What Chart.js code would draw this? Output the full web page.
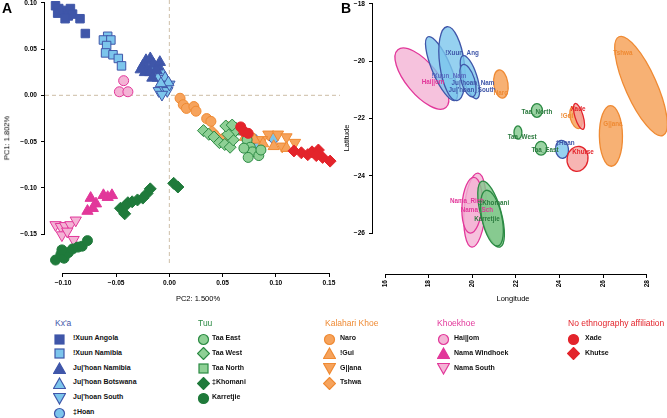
<!DOCTYPE html>
<html><head><meta charset="utf-8">
<script src="https://cdn.jsdelivr.net/npm/chart.js@4/dist/chart.umd.min.js"></script>
<style>
body{margin:0;background:#fff;width:667px;height:418px;overflow:hidden;position:relative;font-family:"Liberation Sans",Arial,Helvetica,sans-serif;}
canvas{position:absolute;top:-7px}
#cA{left:0}
#cB{left:330px}
.t{position:absolute;white-space:nowrap;color:#000;line-height:1}
.lbl{font-size:7.5px}
.letter{font-size:14px;font-weight:bold}
.hdr{position:absolute;white-space:nowrap;font-size:8.5px;line-height:1}
.itm{position:absolute;white-space:nowrap;font-size:7px;font-weight:bold;line-height:1;color:#111}
.sym{position:absolute;width:13px;height:13px}
</style>
</head><body>
<canvas id="cA" width="340" height="317"></canvas>
<canvas id="cB" width="337" height="317"></canvas>
<div class="t letter" style="left:2px;top:1px">A</div>
<div class="t letter" style="left:341px;top:1px">B</div>
<div class="t lbl" style="left:198px;top:299px;transform:translate(-50%,-50%)">PC2: 1.500%</div>
<div class="t lbl" style="left:7px;top:138px;transform:translate(-50%,-50%) rotate(-90deg)">PC1: 1.802%</div>
<div class="t lbl" style="left:513px;top:299px;transform:translate(-50%,-50%)">Longitude</div>
<div class="t lbl" style="left:347px;top:138px;transform:translate(-50%,-50%) rotate(-90deg)">Latitude</div>
<div id="legend"></div>
<script>
// ===== Panel A: PCA values [PC2, PC1] =====
const xuunAngola = [[-0.107,0.097],[-0.104,0.094],[-0.105,0.089],[-0.100,0.092],[-0.096,0.089],[-0.093,0.094],[-0.095,0.086],[-0.091,0.088],[-0.098,0.083],[-0.084,0.083],[-0.079,0.067]];
const xuunNamibia = [[-0.058,0.064],[-0.062,0.060],[-0.055,0.060],[-0.059,0.054],[-0.060,0.046],[-0.053,0.044],[-0.048,0.040],[-0.045,0.032]];
const juhoanNamibia = [[-0.025,0.032],[-0.022,0.038],[-0.018,0.040],[-0.021,0.029],[-0.015,0.034],[-0.011,0.031],[-0.023,0.025],[-0.018,0.025],[-0.012,0.027],[-0.009,0.036],[-0.016,0.019],[-0.027,0.028]];
const juhoanBotswana = [[-0.015,0.030],[-0.007,0.025],[-0.011,0.019],[-0.004,0.019],[-0.001,0.014],[-0.008,0.013]];
const juhoanSouth = [[-0.010,0.005],[-0.006,0.009],[-0.002,0.005],[0.000,0.012],[-0.008,0.016],[-0.007,0.001]];
const hoan = [[0.079,-0.047],[0.084,-0.055],[0.098,-0.046]];
const taaEast = [[0.073,-0.048],[0.076,-0.056],[0.078,-0.061],[0.084,-0.065],[0.074,-0.067],[0.086,-0.059],[0.070,-0.057]];
const taaWest = [[0.032,-0.038],[0.037,-0.042],[0.042,-0.045],[0.047,-0.051],[0.052,-0.053],[0.057,-0.056],[0.060,-0.048],[0.062,-0.038],[0.055,-0.042],[0.053,-0.033],[0.059,-0.032]];
const taaNorth = [[0.059,-0.034],[0.064,-0.038]];
const khomani = [[-0.046,-0.122],[-0.042,-0.128],[-0.039,-0.116],[-0.035,-0.115],[-0.030,-0.113],[-0.025,-0.111],[-0.021,-0.106],[-0.018,-0.101],[0.004,-0.095],[0.008,-0.099],[-0.041,-0.119]];
const karretjie = [[-0.107,-0.178],[-0.102,-0.172],[-0.099,-0.176],[-0.095,-0.170],[-0.091,-0.166],[-0.086,-0.164],[-0.082,-0.163],[-0.077,-0.157],[-0.101,-0.167]];
const naro = [[0.010,-0.003],[0.013,-0.010],[0.016,-0.014],[0.023,-0.012],[0.025,-0.017],[0.035,-0.025],[0.039,-0.028],[0.055,-0.034]];
const gui = [[0.071,-0.045],[0.088,-0.052],[0.098,-0.055],[0.110,-0.057],[0.080,-0.048]];
const gllana = [[0.074,-0.044],[0.093,-0.042],[0.102,-0.042],[0.110,-0.045],[0.118,-0.051],[0.106,-0.055],[0.087,-0.048]];
const tshwa = [[0.040,-0.039],[0.044,-0.044],[0.050,-0.047]];
const haiom = [[-0.043,0.016],[-0.047,0.004],[-0.039,0.004]];
const namaWindhoek = [[-0.074,-0.111],[-0.072,-0.122],[-0.077,-0.125],[-0.062,-0.108],[-0.058,-0.110],[-0.054,-0.108],[-0.069,-0.117]];
const namaSouth = [[-0.107,-0.140],[-0.102,-0.142],[-0.098,-0.141],[-0.093,-0.140],[-0.088,-0.135],[-0.101,-0.151],[-0.090,-0.156],[-0.096,-0.147]];
const xade = [[0.067,-0.034],[0.070,-0.039],[0.074,-0.041]];
const khutse = [[0.117,-0.060],[0.124,-0.062],[0.130,-0.064],[0.134,-0.061],[0.140,-0.059],[0.144,-0.067],[0.151,-0.071],[0.138,-0.065]];

const pcaTicksX = [-0.10,-0.05,0.00,0.05,0.10,0.15];
const pcaTicksY = [-0.15,-0.10,-0.05,0.00,0.05,0.10];

// ===== Panel B: ellipses (centre lon/lat, major semi-axis end offset, minor/major ratio) =====
const ellNames = ["Hai||om","!Xuun_Nam","!Xuun_Ang","Ju|'hoan_South","Ju|'hoan_Nam","Naro","Tshwa","G||ana","!Gui","Xade","Taa_North","Taa_West","Taa_East","‡Hoan","Khutse","Nama_Rieh","Nama_Sch","‡Khomani","Karretjie"];
const ellGroup = ["khoe","kxa","kxa","kxa","kxa","kal","kal","kal","kal","none","tuu","tuu","tuu","kxa","none","khoe","khoe","tuu","tuu"];
const ellLon = [17.69,18.59,19.07,19.89,19.80,21.31,27.73,26.35,24.75,24.89,22.96,22.09,23.15,24.11,24.82,20.12,19.99,20.86,20.90];
const ellLat = [-20.61,-20.26,-20.09,-20.56,-20.68,-20.80,-20.87,-22.61,-21.97,-21.93,-21.72,-22.49,-23.04,-23.08,-23.41,-25.20,-25.03,-25.34,-25.48];
const ellMajLon = [1.10,0.62,0.23,0.32,0.23,0.09,1.01,0.02,0.14,0.18,0.0,0.0,0.0,0.05,-0.11,-0.14,-0.09,0.41,0.27];
const ellMajLat = [-1.01,-1.11,-1.29,-0.75,-0.56,-0.49,-1.72,-1.06,-0.38,-0.45,-0.24,-0.23,-0.24,-0.31,-0.43,-1.29,-0.97,-1.15,-0.97];
const ellRatio = [0.42,0.27,0.33,0.31,0.40,0.5,0.29,0.38,0.5,0.3,0.8,0.6,0.85,0.72,0.83,0.29,0.36,0.3,0.35];

const labNames = ["!Xuun_Ang","!Xuun_Nam","Hai||om","Ju|'hoan_Nam","Ju|'hoan_South","Naro","Taa_North","Taa_West","Taa_East","‡Hoan","Xade","!Gui","G||ana","Tshwa","Khutse","Nama_Rieh","Nama_Sch","‡Khomani","Karretjie"];
const labGroup = ["kxa","kxa2","khoe","kxa","kxa","kal","tuu","tuu","tuu","kxa","none","kal","kal","kal","none","khoe","khoe","tuu","tuu"];
const labLon = [19.53,18.93,18.20,20.03,19.99,21.31,22.96,22.28,23.33,24.25,24.84,24.34,26.44,26.90,25.07,19.76,20.21,20.99,20.67];
const labLat = [-19.74,-20.54,-20.75,-20.78,-21.03,-21.13,-21.79,-22.66,-23.11,-22.87,-21.69,-21.93,-22.21,-19.74,-23.18,-24.89,-25.20,-24.96,-25.51];

const geoTicksX = [16,18,20,22,24,26,28];
const geoTicksY = [-26,-24,-22,-20,-18];

// ===== Legend =====
const legendGroups = ["Kx'a","Tuu","Kalahari Khoe","Khoekhoe","No ethnography affiliation"];
const legendMembers = [
  ["!Xuun Angola","!Xuun Namibia","Ju|'hoan Namibia","Ju|'hoan Botswana","Ju|'hoan South","‡Hoan"],
  ["Taa East","Taa West","Taa North","‡Khomani","Karretjie"],
  ["Naro","!Gui","G||ana","Tshwa"],
  ["Hai||om","Nama Windhoek","Nama South"],
  ["Xade","Khutse"]];

// ===== styles =====
const C = {
  dBlue:'#3f56a9', lBlue:'#7cc5ec', lGreen:'#8ed095', green:'#2b8a43', dGreen:'#1f7a3b',
  orange:'#f6a35c', orangeS:'#ef8a33', pink:'#f4b3d5', mag:'#e2379a', red:'#e3242b'
};
const popStyle = {
  "!Xuun Angola":{shape:'rect',fill:C.dBlue,stroke:C.dBlue,data:xuunAngola},
  "!Xuun Namibia":{shape:'rect',fill:C.lBlue,stroke:C.dBlue,data:xuunNamibia},
  "Ju|'hoan Namibia":{shape:'tri',fill:C.dBlue,stroke:C.dBlue,data:juhoanNamibia},
  "Ju|'hoan Botswana":{shape:'tri',fill:C.lBlue,stroke:C.dBlue,data:juhoanBotswana},
  "Ju|'hoan South":{shape:'triD',fill:C.lBlue,stroke:C.dBlue,data:juhoanSouth},
  "‡Hoan":{shape:'circle',fill:C.lBlue,stroke:C.dBlue,data:hoan},
  "Taa East":{shape:'circle',fill:C.lGreen,stroke:C.green,data:taaEast},
  "Taa West":{shape:'diamond',fill:C.lGreen,stroke:C.green,data:taaWest},
  "Taa North":{shape:'rect',fill:C.lGreen,stroke:C.green,data:taaNorth},
  "‡Khomani":{shape:'diamond',fill:C.dGreen,stroke:C.dGreen,data:khomani},
  "Karretjie":{shape:'circle',fill:C.dGreen,stroke:C.dGreen,data:karretjie},
  "Naro":{shape:'circle',fill:C.orange,stroke:C.orangeS,data:naro},
  "!Gui":{shape:'tri',fill:C.orange,stroke:C.orangeS,data:gui},
  "G||ana":{shape:'triD',fill:C.orange,stroke:C.orangeS,data:gllana},
  "Tshwa":{shape:'diamond',fill:C.orange,stroke:C.orangeS,data:tshwa},
  "Hai||om":{shape:'circle',fill:C.pink,stroke:C.mag,data:haiom},
  "Nama Windhoek":{shape:'tri',fill:C.mag,stroke:C.mag,data:namaWindhoek},
  "Nama South":{shape:'triD',fill:C.pink,stroke:C.mag,data:namaSouth},
  "Xade":{shape:'circle',fill:C.red,stroke:C.red,data:xade},
  "Khutse":{shape:'diamond',fill:C.red,stroke:C.red,data:khutse}
};
const drawOrder = ["Karretjie","‡Khomani","Nama South","Nama Windhoek","Hai||om","!Xuun Angola","!Xuun Namibia","Ju|'hoan Namibia","Ju|'hoan Botswana","Ju|'hoan South","Xade","Khutse","Taa West","Taa North","Taa East","Naro","Tshwa","!Gui","G||ana","‡Hoan"];
const shapeCfg = {
  rect:{pointStyle:'rect',radius:6,rotation:0},
  tri:{pointStyle:'triangle',radius:6.5,rotation:0},
  triD:{pointStyle:'triangle',radius:6.5,rotation:180},
  circle:{pointStyle:'circle',radius:5,rotation:0},
  diamond:{pointStyle:'rectRot',radius:6,rotation:0}
};
const ellFill = {kxa:'rgba(124,197,236,0.8)',tuu:'rgba(130,200,140,0.8)',kal:'rgba(246,163,92,0.85)',khoe:'rgba(244,179,213,0.8)',none:'rgba(245,163,160,0.8)'};
const ellStroke = {kxa:C.dBlue,tuu:C.green,kal:C.orangeS,khoe:C.mag,none:C.red};
const labColor = {kxa:C.dBlue,kxa2:'#5a6cc0',tuu:'#2b7a3e',kal:C.orangeS,khoe:C.mag,none:C.red};

const FONT = "'Liberation Sans', Arial, Helvetica, sans-serif";
const fmtA = v => (v < 0 ? '\u2212' : '') + Math.abs(v).toFixed(2);
const fmtB = v => (v < 0 ? '\u2212' : '') + Math.abs(v);

const rAxes = {
  id:'rAxes',
  afterDraw(chart){
    const ctx = chart.ctx, ca = chart.chartArea, xs = chart.scales.x, ys = chart.scales.y;
    const xt = xs.ticks, yt = ys.ticks;
    ctx.save(); ctx.strokeStyle = '#000'; ctx.lineWidth = 1; ctx.beginPath();
    ctx.moveTo(xs.getPixelForValue(xt[0].value), ca.bottom + 0.5);
    ctx.lineTo(xs.getPixelForValue(xt[xt.length-1].value), ca.bottom + 0.5);
    ctx.moveTo(ca.left - 0.5, ys.getPixelForValue(yt[0].value));
    ctx.lineTo(ca.left - 0.5, ys.getPixelForValue(yt[yt.length-1].value));
    ctx.stroke(); ctx.restore();
  }
};
const zeroLines = {
  id:'zeroLines',
  beforeDatasetsDraw(chart){
    const ctx = chart.ctx, ca = chart.chartArea;
    const x0 = chart.scales.x.getPixelForValue(0), y0 = chart.scales.y.getPixelForValue(0);
    ctx.save(); ctx.strokeStyle = '#d6c9b6'; ctx.lineWidth = 1.2; ctx.setLineDash([4,3]);
    ctx.beginPath(); ctx.moveTo(x0, 0); ctx.lineTo(x0, ca.bottom - 8);
    ctx.moveTo(ca.left, y0); ctx.lineTo(ca.right, y0); ctx.stroke(); ctx.restore();
  }
};
const ellipses = {
  id:'ellipses',
  beforeDatasetsDraw(chart){
    const ctx = chart.ctx, xs = chart.scales.x, ys = chart.scales.y;
    ctx.save(); ctx.lineWidth = 1.3;
    ellNames.forEach((n,i) => {
      const cx = xs.getPixelForValue(ellLon[i]), cy = ys.getPixelForValue(ellLat[i]);
      const ex = xs.getPixelForValue(ellLon[i] + ellMajLon[i]) - cx;
      const ey = ys.getPixelForValue(ellLat[i] + ellMajLat[i]) - cy;
      const a = Math.hypot(ex, ey), ang = Math.atan2(ey, ex);
      ctx.beginPath(); ctx.ellipse(cx, cy, a, a * ellRatio[i], ang, 0, Math.PI * 2);
      ctx.fillStyle = ellFill[ellGroup[i]]; ctx.fill();
      ctx.strokeStyle = ellStroke[ellGroup[i]]; ctx.stroke();
    });
    ctx.font = "bold 6.3px " + FONT; ctx.textAlign = 'center'; ctx.textBaseline = 'middle';
    labNames.forEach((n,i) => {
      ctx.fillStyle = labColor[labGroup[i]];
      ctx.fillText(n, xs.getPixelForValue(labLon[i]), ys.getPixelForValue(labLat[i]));
    });
    ctx.restore();
  }
};

function axisOpts(min, max, ticks, fmt, size, isX, rot){
  return {
    type:'linear', min, max,
    afterBuildTicks: s => { s.ticks = ticks.map(v => ({value:v})); },
    afterFit: s => { if (isX) s.height = size; else s.width = size; },
    border:{display:false},
    grid:{display:true, drawOnChartArea:false, drawTicks:true, tickLength:4, color:'#000', lineWidth:1},
    ticks:{autoSkip:false, color:'#000', font:{family:FONT, size:6.6, weight:'bold'}, padding: isX ? 2 : 4,
      callback: v => fmt(v), maxRotation: rot, minRotation: rot}
  };
}

const baseOpts = {
  responsive:false, animation:false, devicePixelRatio:1,
  layout:{padding:0, autoPadding:false},
  plugins:{legend:{display:false}, tooltip:{enabled:false}}
};

new Chart(document.getElementById('cA'), {
  type:'scatter',
  data:{datasets: drawOrder.map(n => {
    const st = popStyle[n], sc = shapeCfg[st.shape];
    return {label:n, data: st.data.map(p => ({x:p[0], y:p[1]})),
      pointStyle: sc.pointStyle, pointRadius: sc.radius, pointRotation: sc.rotation,
      backgroundColor: st.fill, borderColor: st.stroke, borderWidth: 1, clip:false};
  })},
  options:Object.assign({}, baseOpts, {scales:{
    x: axisOpts(-0.1169, 0.1603, pcaTicksX, fmtA, 37, true, 0),
    y: axisOpts(-0.192, 0.1022, pcaTicksY, fmtA, 45, false, 0)
  }}),
  plugins:[zeroLines, rAxes]
});

new Chart(document.getElementById('cB'), {
  type:'scatter',
  data:{datasets:[{label:'centres', data: ellLon.map((v,i) => ({x:v, y:ellLat[i]})), pointRadius:0}]},
  options:Object.assign({}, baseOpts, {scales:{
    x: axisOpts(15.45, 28.92, geoTicksX, fmtB, 36, true, 90),
    y: axisOpts(-27.43, -17.90, geoTicksY, fmtB, 43, false, 0)
  }}),
  plugins:[ellipses, rAxes]
});

// legend
const colX = [[55,59,73],[198,203,212],[325,329,340],[437,443,454],[568,573,585]];
const hdrColor = [C.dBlue, C.green, C.orangeS, C.mag, C.red];
function symSVG(st){
  const f = st.fill, s = st.stroke, sw = 1.2;
  let shp = '';
  if (st.shape === 'rect') shp = `<rect x="2" y="2" width="9" height="9"/>`;
  else if (st.shape === 'circle') shp = `<circle cx="6.5" cy="6.5" r="5"/>`;
  else if (st.shape === 'tri') shp = `<polygon points="6.5,1 12.5,11.5 0.5,11.5"/>`;
  else if (st.shape === 'triD') shp = `<polygon points="0.5,1.5 12.5,1.5 6.5,12"/>`;
  else shp = `<polygon points="6.5,0.5 12.5,6.5 6.5,12.5 0.5,6.5"/>`;
  return `<svg width="13" height="13" viewBox="0 0 13 13"><g fill="${f}" stroke="${s}" stroke-width="${sw}">${shp}</g></svg>`;
}
let html = '';
legendGroups.forEach((g,gi) => {
  const [hx, sx, tx] = colX[gi];
  html += `<div class="hdr" style="left:${hx}px;top:319px;color:${hdrColor[gi]}">${g}</div>`;
  legendMembers[gi].forEach((m,mi) => {
    const cy = 338 + mi * 14.8;
    html += `<div class="sym" style="left:${sx-6.5}px;top:${cy-6.5}px">${symSVG(popStyle[m])}</div>`;
    html += `<div class="itm" style="left:${tx}px;top:${cy-4}px">${m.replace(/</g,'&lt;')}</div>`;
  });
});
document.getElementById('legend').innerHTML = html;
</script>
</body></html>
